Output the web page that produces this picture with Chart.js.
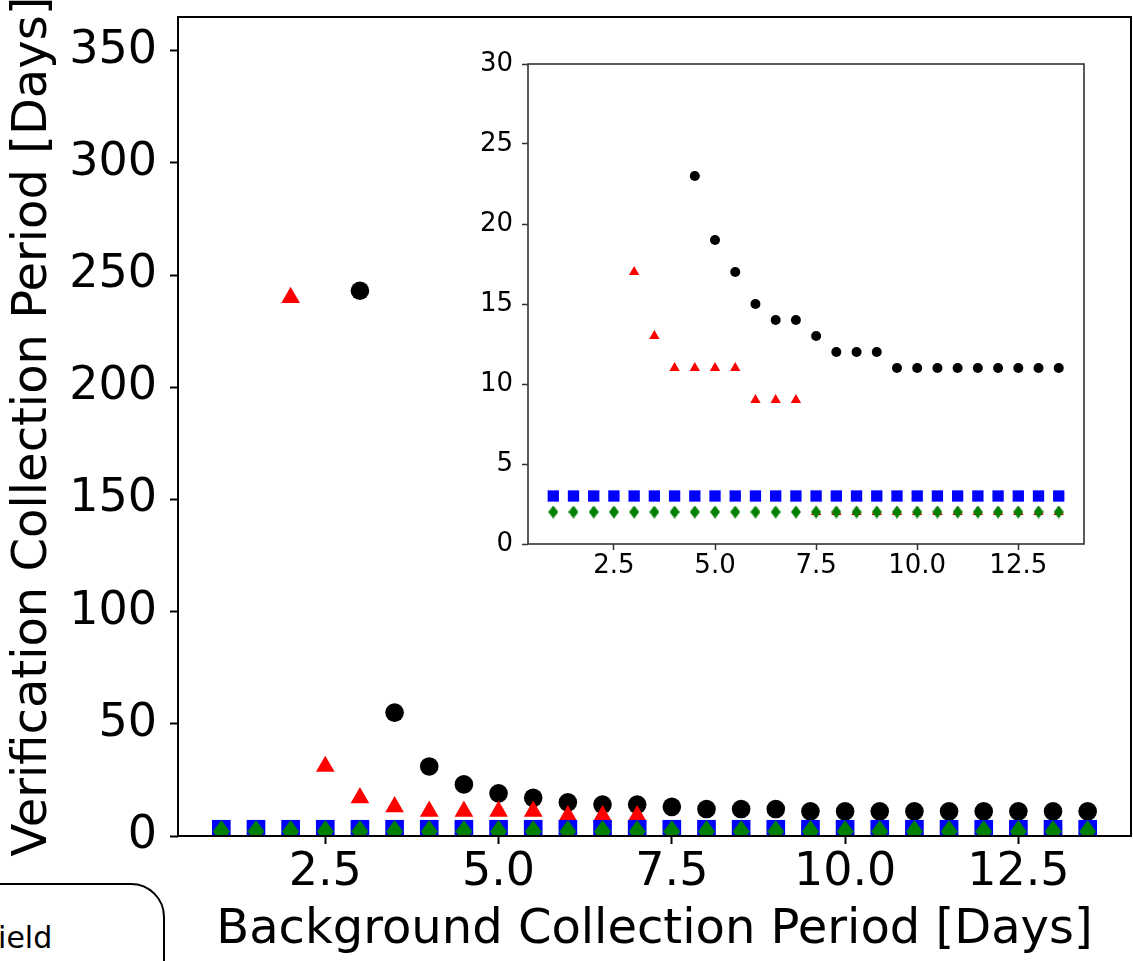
<!DOCTYPE html>
<html>
<head>
<meta charset="utf-8">
<script src="https://cdn.jsdelivr.net/npm/chart.js@4.4.1/dist/chart.umd.min.js"></script>
<style>
  html, body { margin: 0; padding: 0; background: #fff; overflow: hidden; }
  #wrap { position: relative; width: 1133px; height: 961px; overflow: hidden; font-family: "DejaVu Sans", sans-serif; }
  #main { position: absolute; left: 0; top: 0; }
  #inset { position: absolute; left: 470px; top: 40px; }
  #legendBox { position: absolute; left: -300px; top: 883px; width: 461px; height: 200px;
               border: 2px solid #000; border-radius: 34px; background: #fff; }
  #legendText { position: absolute; left: -17px; top: 923px; font-size: 30px; line-height: 30px; color: #000; white-space: nowrap; }
</style>
</head>
<body>
<div id="wrap">
  <canvas id="main" width="1133" height="961"></canvas>
  <canvas id="inset" width="630" height="560"></canvas>
  <div id="legendBox"></div>
  <div id="legendText">Field</div>
</div>
<script>
// background collection period (days)
const periods = [1, 1.5, 2, 2.5, 3, 3.5, 4, 4.5, 5, 5.5, 6, 6.5, 7, 7.5, 8, 8.5, 9, 9.5, 10, 10.5, 11, 11.5, 12, 12.5, 13, 13.5];

// verification collection period (days), one list per series
const blackVals = [null, null, null, null, 243, 55, 31, 23, 19, 17, 15, 14, 14, 13, 12, 12, 12, 11, 11, 11, 11, 11, 11, 11, 11, 11];
const redVals   = [null, null, 240, 31, 17, 13, 11, 11, 11, 11, 9, 9, 9, 2, 2, 2, 2, 2, 2, 2, 2, 2, 2, 2, 2, 2];
const blueVals  = [3, 3, 3, 3, 3, 3, 3, 3, 3, 3, 3, 3, 3, 3, 3, 3, 3, 3, 3, 3, 3, 3, 3, 3, 3, 3];
const greenVals = [2, 2, 2, 2, 2, 2, 2, 2, 2, 2, 2, 2, 2, 2, 2, 2, 2, 2, 2, 2, 2, 2, 2, 2, 2, 2];

const xTicks = [2.5, 5.0, 7.5, 10.0, 12.5];
const yTicksMain = [0, 50, 100, 150, 200, 250, 300, 350];
const yTicksInset = [0, 5, 10, 15, 20, 25, 30];

const xTitle = 'Background Collection Period [Days]';
const yTitle = 'Verification Collection Period [Days]';

const FONT = '"DejaVu Sans", sans-serif';

const pts = vals => periods.map((x, i) => ({ x, y: vals[i] })).filter(p => p.y !== null);

function thinDiamond(w, h, color) {
    const c = document.createElement('canvas');
    c.width = w; c.height = h;
    const g = c.getContext('2d');
    g.fillStyle = color;
    g.beginPath();
    g.moveTo(w / 2, 0);
    g.lineTo(w, h / 2);
    g.lineTo(w / 2, h);
    g.lineTo(0, h / 2);
    g.closePath();
    g.fill();
    return c;
}

// no extra room for half tick labels: the plot box is fixed
function noPad(sc) {
    sc.paddingTop = 0; sc.paddingBottom = 0; sc.paddingLeft = 0; sc.paddingRight = 0;
}

const framePlugin = {
    id: 'frame',
    afterDatasetsDraw(chart, args, opts) {
        const { ctx, chartArea: a } = chart;
        ctx.save();
        ctx.strokeStyle = opts.color || '#000';
        ctx.lineWidth = opts.width || 2;
        ctx.strokeRect(a.left, a.top, a.right - a.left, a.bottom - a.top);
        ctx.restore();
    }
};

const yTitlePlugin = {
    id: 'yTitle',
    afterDraw(chart, args, opts) {
        if (!opts.text) return;
        const { ctx, chartArea: a } = chart;
        ctx.save();
        ctx.translate(opts.x, (a.top + a.bottom) / 2);
        ctx.rotate(-Math.PI / 2);
        ctx.font = opts.size + 'px ' + FONT;
        ctx.textAlign = 'center';
        ctx.textBaseline = 'alphabetic';
        ctx.fillStyle = '#000';
        ctx.fillText(opts.text, 0, 0);
        ctx.restore();
    }
};

function makeDatasets(s) {
    return [
        { label: 'black', data: pts(blackVals), order: 4, pointStyle: 'circle', pointRadius: s.circle,
          backgroundColor: '#000000', borderWidth: 0 },
        { label: 'red', data: pts(redVals), order: 3, pointStyle: 'triangle', pointRadius: s.tri,
          backgroundColor: '#ff0000', borderWidth: 0 },
        { label: 'blue', data: pts(blueVals), order: 2, pointStyle: 'rect', pointRadius: s.rect,
          backgroundColor: '#0000ff', borderWidth: 0 },
        { label: 'green', data: pts(greenVals), order: 1, pointStyle: thinDiamond(s.dw, s.dh, '#008000'), pointRadius: s.dh / 2,
          backgroundColor: '#008000', borderWidth: 0 }
    ];
}

function makeScales(s) {
    return {
        x: {
            type: 'linear', min: 0.375, max: 14.125,
            afterBuildTicks: sc => { sc.ticks = xTicks.map(v => ({ value: v })); },
            afterFit: sc => { sc.height = s.xHeight; noPad(sc); },
            grid: { drawOnChartArea: false, drawTicks: true, tickLength: s.tickLen, tickWidth: s.tickW, tickColor: s.tickColor },
            border: { display: false },
            ticks: { font: { family: FONT, size: s.tickFont }, color: '#000', padding: s.xPad,
                     maxRotation: 0, autoSkip: false, callback: v => Number(v).toFixed(1) },
            title: s.xTitle ? { display: true, text: s.xTitle, color: '#000',
                     font: { family: FONT, size: s.titleFont }, padding: { top: 0, bottom: s.titlePad } } : { display: false }
        },
        y: {
            type: 'linear', min: 0, max: s.yMax,
            afterBuildTicks: sc => { sc.ticks = s.yTicks.map(v => ({ value: v })); },
            afterFit: sc => { sc.width = s.yWidth; noPad(sc); },
            grid: { drawOnChartArea: false, drawTicks: true, tickLength: s.tickLen, tickWidth: s.tickW, tickColor: s.tickColor },
            border: { display: false },
            ticks: { font: { family: FONT, size: s.tickFont }, color: '#000', padding: s.yPad,
                     autoSkip: false, callback: v => String(v) }
        }
    };
}

new Chart(document.getElementById('main'), {
    type: 'scatter',
    data: { datasets: makeDatasets({ circle: 9.3, tri: 10.8, rect: 13.2, dw: 17, dh: 23 }) },
    options: {
        responsive: false, animation: false, events: [], devicePixelRatio: 1,
        layout: { autoPadding: false, padding: { top: 17, right: 2, left: 0, bottom: 0 } },
        plugins: {
            legend: { display: false }, tooltip: { enabled: false },
            frame: { color: '#000', width: 2 },
            yTitle: { text: yTitle, x: 46, size: 48 }
        },
        scales: makeScales({
            xHeight: 125, yWidth: 178, yMax: 365, yTicks: yTicksMain,
            tickLen: 8, tickW: 2, tickColor: '#000', tickFont: 46, xPad: 1, yPad: 13,
            xTitle: xTitle, titleFont: 48, titlePad: 2
        })
    },
    plugins: [framePlugin, yTitlePlugin]
});

new Chart(document.getElementById('inset'), {
    type: 'scatter',
    data: { datasets: makeDatasets({ circle: 5, tri: 6, rect: 8, dw: 10, dh: 13 }) },
    options: {
        responsive: false, animation: false, events: [], devicePixelRatio: 1,
        layout: { autoPadding: false, padding: { top: 24, right: 16, left: 0, bottom: 0 } },
        plugins: {
            legend: { display: false }, tooltip: { enabled: false },
            frame: { color: '#333', width: 1.6 },
            yTitle: { text: '' }
        },
        scales: makeScales({
            xHeight: 56, yWidth: 58, yMax: 30, yTicks: yTicksInset,
            tickLen: 6, tickW: 1.5, tickColor: '#333', tickFont: 26, xPad: 1, yPad: 9,
            xTitle: null
        })
    },
    plugins: [framePlugin, yTitlePlugin]
});
</script>
</body>
</html>
